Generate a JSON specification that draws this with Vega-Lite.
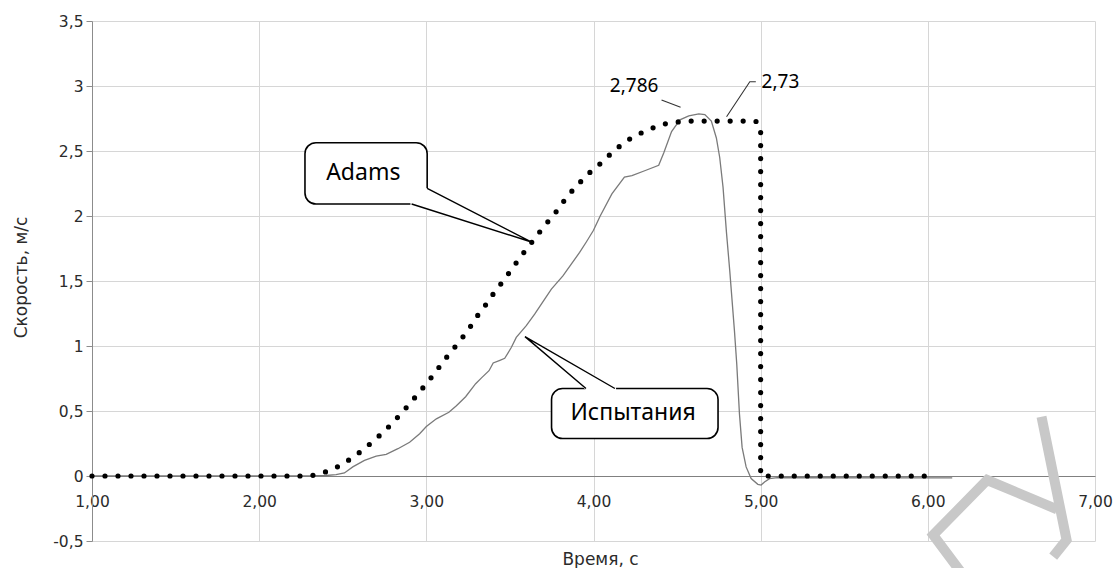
{
  "$schema": "https://vega.github.io/schema/vega-lite/v6.json",
  "width": 1003,
  "height": 520,
  "autosize": {"type": "none"},
  "padding": {"left": 92, "top": 21, "right": 22, "bottom": 27},
  "background": "white",
  "config": {"view": {"stroke": null}, "font": "DejaVu Sans"},
  "datasets": {
    "watermark": [
      {"id": "w1", "x": 6.21, "y": -0.76},
      {"id": "w1", "x": 6.032, "y": -0.454},
      {"id": "w1", "x": 6.355, "y": -0.031},
      {"id": "w1", "x": 6.773, "y": -0.256},
      {"id": "w2", "x": 6.68, "y": 0.456},
      {"id": "w2", "x": 6.83, "y": -0.492},
      {"id": "w2", "x": 6.75, "y": -0.621}
    ],
    "test": [
      {"x": 1.0, "y": 0}, {"x": 2.3, "y": 0}, {"x": 2.4, "y": 0.004}, {"x": 2.46, "y": 0.01},
      {"x": 2.51, "y": 0.023}, {"x": 2.56, "y": 0.07}, {"x": 2.63, "y": 0.12}, {"x": 2.70, "y": 0.153},
      {"x": 2.76, "y": 0.166}, {"x": 2.83, "y": 0.21}, {"x": 2.90, "y": 0.26}, {"x": 2.96, "y": 0.325},
      {"x": 3.0, "y": 0.38}, {"x": 3.06, "y": 0.44}, {"x": 3.135, "y": 0.49}, {"x": 3.18, "y": 0.54},
      {"x": 3.235, "y": 0.61}, {"x": 3.295, "y": 0.71}, {"x": 3.33, "y": 0.755}, {"x": 3.375, "y": 0.81},
      {"x": 3.40, "y": 0.87}, {"x": 3.44, "y": 0.89}, {"x": 3.469, "y": 0.905}, {"x": 3.509, "y": 0.99},
      {"x": 3.538, "y": 1.066}, {"x": 3.598, "y": 1.156}, {"x": 3.648, "y": 1.245}, {"x": 3.708, "y": 1.36},
      {"x": 3.748, "y": 1.437}, {"x": 3.817, "y": 1.539}, {"x": 3.867, "y": 1.63}, {"x": 3.917, "y": 1.72},
      {"x": 3.957, "y": 1.80}, {"x": 4.0, "y": 1.89}, {"x": 4.04, "y": 2.0}, {"x": 4.11, "y": 2.17},
      {"x": 4.185, "y": 2.30}, {"x": 4.23, "y": 2.31}, {"x": 4.31, "y": 2.35}, {"x": 4.39, "y": 2.39},
      {"x": 4.42, "y": 2.485}, {"x": 4.467, "y": 2.65}, {"x": 4.517, "y": 2.74}, {"x": 4.57, "y": 2.77},
      {"x": 4.63, "y": 2.786}, {"x": 4.666, "y": 2.78}, {"x": 4.705, "y": 2.73}, {"x": 4.735, "y": 2.60},
      {"x": 4.755, "y": 2.45}, {"x": 4.775, "y": 2.22}, {"x": 4.795, "y": 1.88}, {"x": 4.815, "y": 1.58},
      {"x": 4.843, "y": 1.12}, {"x": 4.857, "y": 0.86}, {"x": 4.873, "y": 0.48}, {"x": 4.889, "y": 0.22},
      {"x": 4.913, "y": 0.07}, {"x": 4.943, "y": -0.02}, {"x": 4.983, "y": -0.064}, {"x": 5.003, "y": -0.07},
      {"x": 5.023, "y": -0.046}, {"x": 5.053, "y": -0.02}, {"x": 5.1, "y": -0.012}, {"x": 6.146, "y": -0.015}
    ],
    "adams": [
      {"x": 1.0, "y": 0}, {"x": 2.28, "y": 0}, {"x": 2.314, "y": 0.003}, {"x": 2.386, "y": 0.026},
      {"x": 2.46, "y": 0.064}, {"x": 2.525, "y": 0.113}, {"x": 2.588, "y": 0.169}, {"x": 2.648, "y": 0.23},
      {"x": 2.708, "y": 0.297}, {"x": 2.761, "y": 0.36}, {"x": 2.813, "y": 0.43}, {"x": 2.863, "y": 0.50},
      {"x": 2.913, "y": 0.575}, {"x": 2.962, "y": 0.65}, {"x": 3.01, "y": 0.726}, {"x": 3.056, "y": 0.80},
      {"x": 3.10, "y": 0.88}, {"x": 3.147, "y": 0.954}, {"x": 3.195, "y": 1.03}, {"x": 3.237, "y": 1.10},
      {"x": 3.28, "y": 1.18}, {"x": 3.32, "y": 1.26}, {"x": 3.37, "y": 1.34}, {"x": 3.41, "y": 1.42},
      {"x": 3.46, "y": 1.50}, {"x": 3.51, "y": 1.59}, {"x": 3.56, "y": 1.68}, {"x": 3.62, "y": 1.78},
      {"x": 3.68, "y": 1.88}, {"x": 3.73, "y": 1.96}, {"x": 3.775, "y": 2.03}, {"x": 3.82, "y": 2.11},
      {"x": 3.87, "y": 2.19}, {"x": 3.92, "y": 2.26}, {"x": 3.974, "y": 2.33}, {"x": 4.03, "y": 2.39},
      {"x": 4.085, "y": 2.457}, {"x": 4.14, "y": 2.52}, {"x": 4.20, "y": 2.58}, {"x": 4.27, "y": 2.63},
      {"x": 4.34, "y": 2.67}, {"x": 4.41, "y": 2.705}, {"x": 4.49, "y": 2.722}, {"x": 4.56, "y": 2.73},
      {"x": 4.97, "y": 2.73}, {"x": 5.0, "y": 2.69}, {"x": 5.0, "y": 0}, {"x": 6.0, "y": 0}
    ],
    "boxes": [
      {"x": 2.274, "x2": 3.005, "y": 2.564, "y2": 2.092},
      {"x": 3.749, "x2": 4.745, "y": 0.673, "y2": 0.288}
    ],
    "wedges": [
      {"id": "a", "x": 2.905, "y": 2.22, "y2": 2.08},
      {"id": "a", "x": 3.005, "y": 2.213, "y2": 2.041},
      {"id": "a", "x": 3.624, "y": 1.802, "y2": 1.802},
      {"id": "b", "x": 3.59, "y": 1.072, "y2": 1.072},
      {"id": "b", "x": 3.955, "y": 0.8095, "y2": 0.662},
      {"id": "b", "x": 4.135, "y": 0.68, "y2": 0.662}
    ],
    "pointers": [
      {"id": "a", "x": 3.005, "y": 2.213},
      {"id": "a", "x": 3.624, "y": 1.802},
      {"id": "a", "x": 2.912, "y": 2.092},
      {"id": "b", "x": 3.955, "y": 0.673},
      {"id": "b", "x": 3.59, "y": 1.072},
      {"id": "b", "x": 4.128, "y": 0.673}
    ],
    "leaders": [
      {"id": "c", "x": 4.407, "y": 2.892},
      {"id": "c", "x": 4.521, "y": 2.836},
      {"id": "d", "x": 4.796, "y": 2.764},
      {"id": "d", "x": 4.935, "y": 3.033},
      {"id": "d", "x": 4.971, "y": 3.033}
    ],
    "boxtext": [
      {"x": 2.623, "y": 2.328, "t": "Adams"},
      {"x": 4.237, "y": 0.487, "t": "Испытания"}
    ],
    "valtext": [
      {"x": 4.243, "y": 3.0, "t": "2,786"},
      {"x": 5.118, "y": 3.027, "t": "2,73"}
    ]
  },
  "encoding": {
    "x": {
      "field": "x", "type": "quantitative",
      "scale": {"domain": [1, 7], "nice": false, "zero": false},
      "axis": {
        "title": "Время, с",
        "values": [1, 2, 3, 4, 5, 6, 7],
        "offset": -65,
        "grid": true, "gridColor": "#d6d6d6", "gridWidth": 1,
        "domainColor": "#808080", "domainWidth": 1,
        "ticks": false, "tickSize": 0,
        "labelExpr": "replace(format(datum.value, '.2f'), '.', ',')",
        "labelFont": "DejaVu Sans", "labelFontSize": 15.5, "labelColor": "#2b2b2b",
        "labelPadding": 18, "labelFlush": false, "labelOverlap": false,
        "titleFont": "DejaVu Sans", "titleFontSize": 17, "titleFontWeight": "normal", "titleColor": "#2b2b2b",
        "titleX": 508, "titleY": 88, "titleBaseline": "alphabetic", "titleAlign": "center"
      }
    },
    "y": {
      "field": "y", "type": "quantitative",
      "scale": {"domain": [-0.5, 3.5], "nice": false, "zero": false},
      "axis": {
        "title": "Скорость, м/с",
        "values": [-0.5, 0, 0.5, 1, 1.5, 2, 2.5, 3, 3.5],
        "grid": true, "gridColor": "#d6d6d6", "gridWidth": 1,
        "domainColor": "#8c8c8c", "domainWidth": 1,
        "ticks": true, "tickSize": 6, "tickColor": "#8c8c8c",
        "labelExpr": "replace(toString(datum.value), '.', ',')",
        "labelFont": "DejaVu Sans", "labelFontSize": 15.5, "labelColor": "#2b2b2b",
        "labelPadding": 3, "labelFlush": false, "labelOverlap": false,
        "titleFont": "DejaVu Sans", "titleFontSize": 17, "titleFontWeight": "normal", "titleColor": "#2b2b2b",
        "titleX": -66, "titleY": 256, "titleBaseline": "alphabetic", "titleAngle": -90, "titleAlign": "center"
      }
    }
  },
  "layer": [
    {
      "data": {"name": "watermark"},
      "mark": {"type": "line", "stroke": "#c8c8c8", "strokeWidth": 10, "strokeCap": "butt", "clip": false},
      "encoding": {"detail": {"field": "id"}, "order": {"value": null}}
    },
    {
      "data": {"name": "test"},
      "mark": {"type": "line", "stroke": "#7a7a7a", "strokeWidth": 1.3},
      "encoding": {"order": {"value": null}}
    },
    {
      "data": {"name": "adams"},
      "mark": {"type": "line", "stroke": "black", "strokeWidth": 5.2, "strokeCap": "round", "strokeDash": [0, 13]},
      "encoding": {"order": {"value": null}}
    },
    {
      "data": {"name": "boxes"},
      "mark": {"type": "rect", "fill": "white", "stroke": "black", "strokeWidth": 1.6, "cornerRadius": 11},
      "encoding": {"x2": {"field": "x2"}, "y2": {"field": "y2"}}
    },
    {
      "data": {"name": "wedges"},
      "mark": {"type": "area", "fill": "white", "stroke": null, "opacity": 1},
      "encoding": {"y2": {"field": "y2"}, "detail": {"field": "id"}}
    },
    {
      "data": {"name": "pointers"},
      "mark": {"type": "line", "stroke": "black", "strokeWidth": 1.4},
      "encoding": {"detail": {"field": "id"}, "order": {"value": null}}
    },
    {
      "data": {"name": "leaders"},
      "mark": {"type": "line", "stroke": "#333333", "strokeWidth": 1.1},
      "encoding": {"detail": {"field": "id"}, "order": {"value": null}}
    },
    {
      "data": {"name": "boxtext"},
      "mark": {"type": "text", "font": "Noto Sans", "fontSize": 23, "align": "center", "baseline": "middle", "color": "black"},
      "encoding": {"text": {"field": "t"}}
    },
    {
      "data": {"name": "valtext"},
      "mark": {"type": "text", "font": "Noto Sans", "fontSize": 19, "align": "center", "baseline": "middle", "color": "black"},
      "encoding": {"text": {"field": "t"}}
    }
  ]
}
